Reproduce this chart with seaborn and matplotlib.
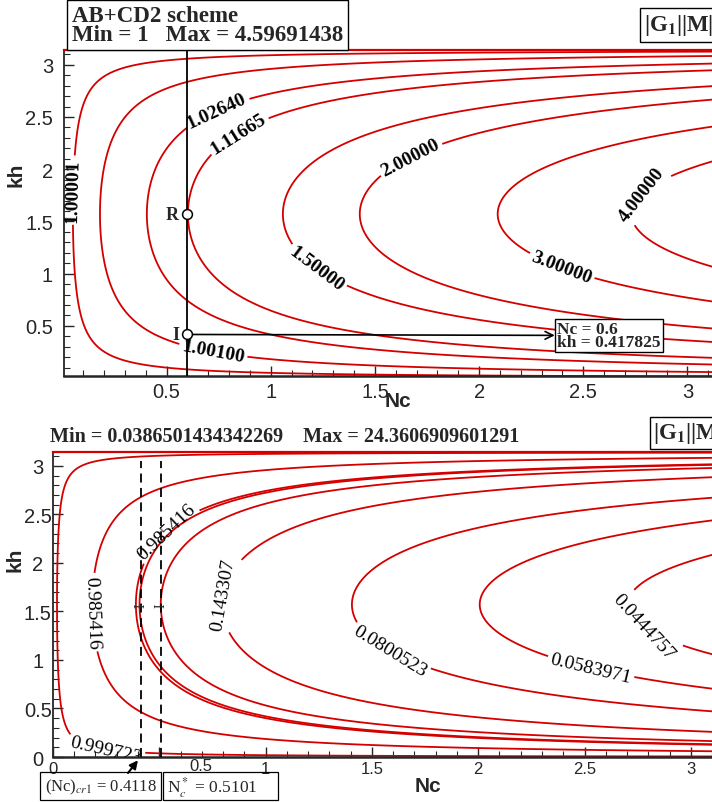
import numpy as np
import matplotlib
matplotlib.use("Agg")
import matplotlib.pyplot as plt
from matplotlib.patches import Rectangle
from matplotlib.ticker import MultipleLocator, FuncFormatter
from matplotlib.transforms import ScaledTranslation
import seaborn as sns

# Curves are lines of constant Nc*sin(kh); each level is the Nc where the
# curve crosses kh = pi/2, label = value printed on it.
top_levels = [0.050, 0.180, 0.405, 0.602, 1.058, 1.427, 2.089, 2.731]
top_labels = ["1.00001", "1.00100", "1.02640", "1.11665",
              "1.50000", "2.00000", "3.00000", "4.00000"]
top_label_pos = [(0.05, 1.80), (0.72, 0.22), (0.75, 2.52), (0.85, 2.32),
                 (1.21, 1.02), (1.68, 2.07), (2.39, 1.03), (2.79, 1.74)]

bot_levels = [0.019, 0.185, 0.390, 0.407, 0.507, 0.795, 1.406, 2.007, 2.703]
bot_labelled = [0.019, 0.185, 0.390, 0.795, 1.406, 2.007, 2.703]
bot_labels = ["0.999723", "0.985416", "0.985416", "0.143307",
              "0.0800523", "0.0583971", "0.0444757"]
bot_label_pos = [(0.25, 0.10), (0.17, 1.49), (0.53, 2.33), (0.82, 1.67),
                 (1.59, 1.11), (2.53, 0.92), (2.79, 1.39)]

top_ticks = [0.5, 1, 1.5, 2, 2.5, 3]
bot_ticks = [0, 0.5, 1, 1.5, 2, 2.5, 3]

scheme = "AB+CD2 scheme"
top_min, top_max = "1", "4.59691438"
bot_min, bot_max = "0.0386501434342269", "24.3606909601291"

probe_nc, probe_kh = 0.6, 0.417825
r_kh = 1.5708
point_names = ["R", "I"]
nc_cr1, nc_star = 0.4118, 0.5101

RED = "#d40000"
SERIF = ["Liberation Serif", "DejaVu Serif"]

sns.set_style("ticks")
plt.rcParams["font.family"] = ["Liberation Sans", "DejaVu Sans"]
plt.rcParams["mathtext.fontset"] = "stix"

nc = np.linspace(0, np.pi, 800)
kh = np.linspace(0, np.pi, 800)
NC, KH = np.meshgrid(nc, kh)
field = NC * np.sin(KH)

W, H = 712, 803
fig = plt.figure(figsize=(W / 100, H / 100), dpi=100)
ax1 = fig.add_axes([0.0892, 0.5305, 0.9178, 0.406])
ax2 = fig.add_axes([0.0744, 0.0560, 0.9382, 0.3798])

fmt_g = FuncFormatter(lambda v, p: f"{v:g}")


def style_axes(ax, ticks, xlim, ylim, xsize, ysize, xpad, ypad):
    ax.set_xticks(ticks)
    ax.set_yticks(ticks)
    ax.set_xlim(*xlim)
    ax.set_ylim(*ylim)
    ax.xaxis.set_minor_locator(MultipleLocator(0.1))
    ax.yaxis.set_minor_locator(MultipleLocator(0.1))
    ax.xaxis.set_major_formatter(fmt_g)
    ax.yaxis.set_major_formatter(fmt_g)
    ax.tick_params(which="major", direction="in", length=7, width=1,
                   top=False, right=False)
    ax.tick_params(which="minor", direction="in", length=4, width=0.8,
                   top=False, right=False)
    ax.tick_params(axis="x", labelsize=xsize, pad=xpad)
    ax.tick_params(axis="y", labelsize=ysize, pad=ypad)
    ax.spines["right"].set_visible(False)
    ax.spines["top"].set_color(RED)
    ax.spines["top"].set_linewidth(1.6)
    ax.spines["left"].set_linewidth(1.3)
    ax.spines["bottom"].set_linewidth(1.8)
    ax.grid(False)


style_axes(ax1, top_ticks, (0.005, np.pi), (0.02, np.pi), 14.5, 14.5, 4, 7.5)
style_axes(ax2, bot_ticks, (0, np.pi), (0, np.pi), 12, 14.5, 2.5, 11)

ax1.set_xlabel("Nc", fontsize=15, fontweight="bold")
ax1.set_ylabel("kh", fontsize=15, fontweight="bold")
ax1.xaxis.set_label_coords(0.512, -0.045)
ax1.yaxis.set_label_coords(-0.058, 0.62)
ax2.set_xlabel("Nc", fontsize=15, fontweight="bold")
ax2.set_ylabel("kh", fontsize=15, fontweight="bold")
ax2.xaxis.set_label_coords(0.561, -0.062)
ax2.yaxis.set_label_coords(-0.042, 0.65)

# ---- top panel
cs1 = ax1.contour(NC, KH, field, levels=top_levels, colors=RED, linewidths=1.3)
with plt.rc_context({"font.family": SERIF, "font.weight": "bold"}):
    ax1.clabel(cs1, top_levels, fmt=dict(zip(top_levels, top_labels)),
               manual=top_label_pos, inline=True, inline_spacing=3,
               fontsize=14, colors="black")

ax1.axvline(probe_nc, color="black", lw=1.3, zorder=3)
sns.scatterplot(x=[probe_nc, probe_nc], y=[r_kh, probe_kh], ax=ax1, s=50,
                color="white", edgecolor="black", linewidth=1.1, zorder=5,
                legend=False)
for name, yv in zip(point_names, [r_kh, probe_kh]):
    ax1.annotate(name, (probe_nc, yv), xytext=(-6, 0), textcoords="offset points",
                 ha="right", va="center", fontsize=13, fontweight="bold",
                 family=SERIF)
ax1.annotate(f"Nc = {probe_nc:g}\nkh = {probe_kh:g}", xy=(probe_nc, probe_kh),
             xytext=(2.375, probe_kh - 0.01), ha="left", va="center", fontsize=12.5,
             fontweight="bold", family=SERIF, linespacing=0.8,
             bbox=dict(boxstyle="square,pad=0.12", fc="white", ec="black", lw=1),
             arrowprops=dict(arrowstyle="<-", color="black", lw=1.2,
                             shrinkA=0, shrinkB=4, mutation_scale=14))

fig.text(72 / W, 1 - 26 / H, f"{scheme}\nMin = {top_min}   Max = {top_max}",
         ha="left", va="center", fontsize=16.5, fontweight="bold", family=SERIF,
         linespacing=0.88,
         bbox=dict(boxstyle="square,pad=0.2", fc="white", ec="black", lw=1))
fig.text(644 / W, 1 - 26 / H, r"|G$_\mathbf{1}$||M|", ha="left", va="center",
         fontsize=16.5, fontweight="bold", family=SERIF,
         bbox=dict(boxstyle="square,pad=0.18", fc="white", ec="black", lw=1))

# ---- bottom panel
cs2 = ax2.contour(NC, KH, field, levels=bot_levels, colors=RED, linewidths=1.3)
bot_fmt = {lv: "" for lv in bot_levels}
bot_fmt.update(zip(bot_labelled, bot_labels))
with plt.rc_context({"font.family": SERIF}):
    ax2.clabel(cs2, bot_levels, fmt=bot_fmt,
               manual=bot_label_pos, inline=True, inline_spacing=3,
               fontsize=14, colors="black")

ax2.vlines([nc_cr1, nc_star], 0, 3.05, colors="black",
           linestyles=(0, (5, 3)), lw=1.3, zorder=3)
for xv in [nc_cr1, nc_star]:
    ax2.text(xv, r_kh, "I", rotation=90, ha="center", va="center",
             fontsize=10, family=SERIF, zorder=4)

fig.text(50 / W, 1 - 437 / H, f"Min = {bot_min}    Max = {bot_max}",
         ha="left", va="center", fontsize=14.5, fontweight="bold", family=SERIF)
fig.text(653 / W, 1 - 434 / H, r"|G$_\mathbf{1}$||M|", ha="left", va="center",
         fontsize=16.5, fontweight="bold", family=SERIF,
         bbox=dict(boxstyle="square,pad=0.15", fc="white", ec="black", lw=1))

# two framed notes under the lower panel
for x0, x1 in [(40, 161), (163, 278)]:
    fig.add_artist(Rectangle((x0 / W, 1 - 801 / H), (x1 - x0) / W, 28 / H,
                             transform=fig.transFigure, fc="none", ec="black",
                             lw=0.9))
fig.text(45 / W, 1 - 787 / H, rf"(Nc)$_{{cr1}}$ = {nc_cr1:g}", ha="left",
         va="center", fontsize=12, family=SERIF)
fig.text(167 / W, 1 - 788 / H, rf"N$^*_c$ = {nc_star:g}", ha="left", va="center",
         fontsize=12.5, family=SERIF)
ax2.annotate("", xy=(nc_cr1, 0), xycoords="data",
             xytext=(128 / W, 1 - 774 / H), textcoords="figure fraction",
             arrowprops=dict(arrowstyle="-|>", color="black", lw=1.5,
                             shrinkA=0, shrinkB=3, mutation_scale=12),
             annotation_clip=False)

# bottom tick labels: y labels centred, the 0.5 label sits shifted to the right
for t in ax2.yaxis.get_major_ticks():
    t.label1.set_horizontalalignment("center")
t05 = ax2.xaxis.get_major_ticks()[1]
t05.label1.set_transform(t05.label1.get_transform()
                         + ScaledTranslation(0.42, 0.03, fig.dpi_scale_trans))

fig.savefig("out.png", dpi=100)
